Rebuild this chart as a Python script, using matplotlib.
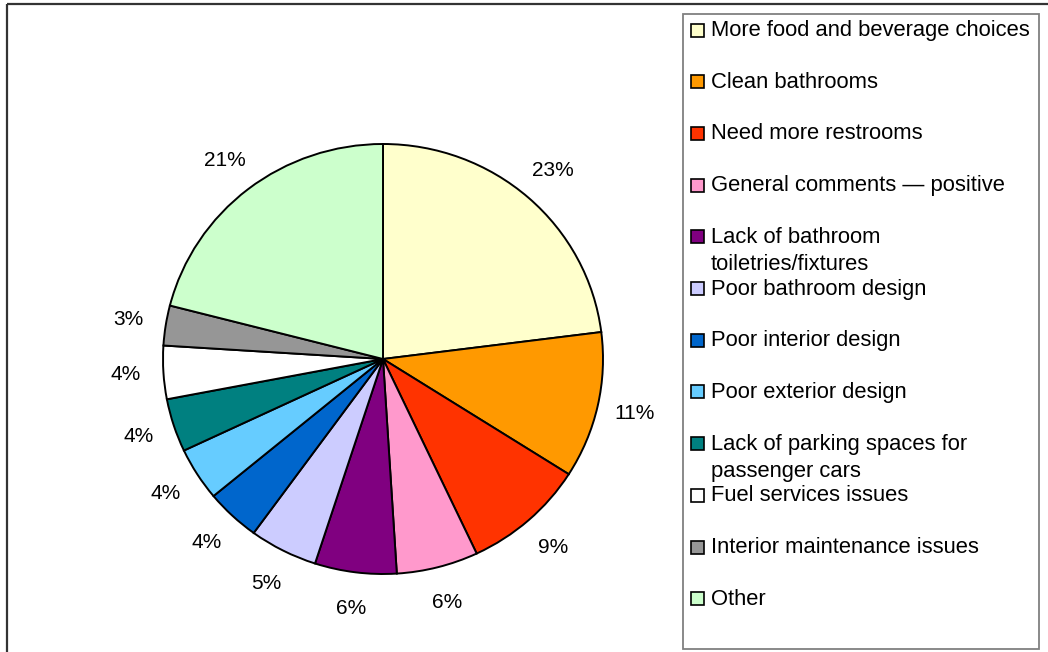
"""
Pie chart of rest area comments, with a hand-laid legend panel on the right.
"""

import matplotlib
matplotlib.use('Agg')
import matplotlib.pyplot as plt
from matplotlib.patches import Rectangle

plt.rcParams['font.family'] = ['Liberation Sans', 'DejaVu Sans']

# comment categories and their share (%)
categories = [
    'More food and beverage choices',
    'Clean bathrooms',
    'Need more restrooms',
    'General comments \u2014 positive',
    'Lack of bathroom\ntoiletries/fixtures',
    'Poor bathroom design',
    'Poor interior design',
    'Poor exterior design',
    'Lack of parking spaces for\npassenger cars',
    'Fuel services issues',
    'Interior maintenance issues',
    'Other',
]
shares = [23, 11, 9, 6, 6, 5, 4, 4, 4, 4, 3, 21]
colors = [
    '#FFFFCC', '#FF9900', '#FF3300', '#FF99CC', '#800080', '#CCCCFF',
    '#0066CC', '#66CCFF', '#008080', '#FFFFFF', '#969696', '#CCFFCC',
]

W, H = 1048, 652
fig = plt.figure(figsize=(W / 100, H / 100), dpi=100)

# overlay axes in pixel units for the frame and the legend panel
ax_bg = fig.add_axes([0, 0, 1, 1])
ax_bg.set_xlim(0, W)
ax_bg.set_ylim(H, 0)
ax_bg.axis('off')

# outer chart frame (runs off the right and bottom edges)
ax_bg.add_patch(Rectangle((6.5, 4), W + 20, H + 20, fill=False,
                          edgecolor='#333333', linewidth=1.6))

# pie
cx, cy, rx, ry = 383, 359, 220, 215
ax = fig.add_axes([(cx - rx) / W, (H - cy - ry) / H, 2 * rx / W, 2 * ry / H])
wedges, _, pct_texts = ax.pie(
    shares, colors=colors, startangle=90, counterclock=False,
    autopct='%1.0f%%', pctdistance=1.17,
    wedgeprops={'edgecolor': 'black', 'linewidth': 1.4},
    textprops={'fontsize': 15, 'color': 'black'},
)
ax.set_aspect('auto')
ax.set_xlim(-1, 1)
ax.set_ylim(-1, 1)

# legend panel
ax_bg.add_patch(Rectangle((683, 14), 356, 635, facecolor='white',
                          edgecolor='#808080', linewidth=1.3))
row0, row_step, line_step = 30.5, 51.7, 27
for i, (label, color) in enumerate(zip(categories, colors)):
    y = row0 + i * row_step
    ax_bg.add_patch(Rectangle((691, y - 7), 13, 13, facecolor=color,
                              edgecolor='black', linewidth=1.2))
    for k, line in enumerate(label.split('\n')):
        ax_bg.text(711, y + k * line_step, line, fontsize=15.8,
                   va='center', ha='left', color='black')

fig.savefig('out.png', dpi=100)
